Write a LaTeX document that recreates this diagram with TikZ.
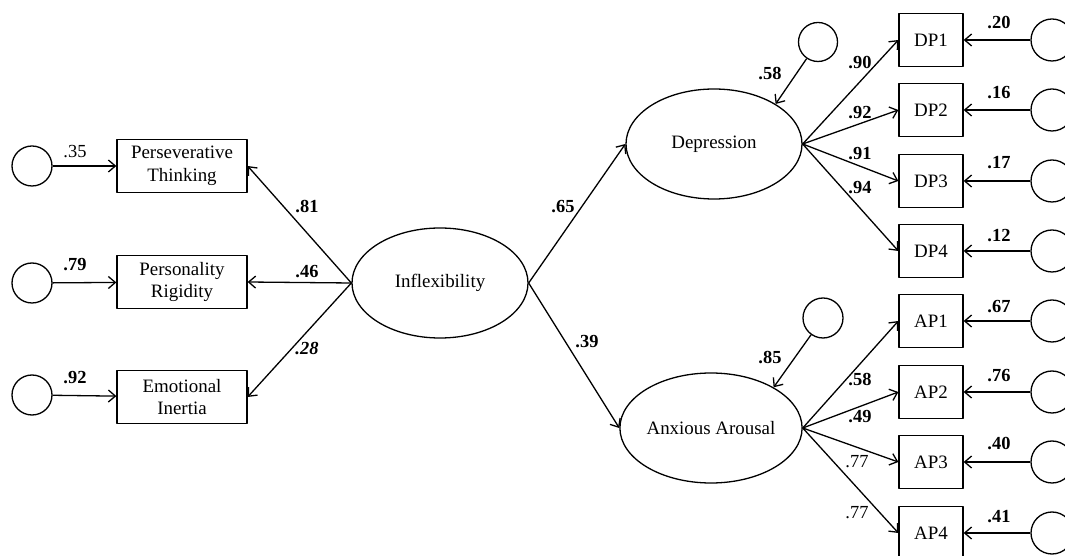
\documentclass[tikz,border=0pt]{standalone}
\usepackage{fontspec}
\setmainfont{Liberation Serif}
\usetikzlibrary{arrows.meta,shapes.geometric}
\tikzset{
  latent/.style={draw,ellipse,minimum width=176bp,minimum height=110bp,inner sep=0pt,font=\fontsize{19}{23}\selectfont},
  obsbox/.style={draw,rectangle,minimum height=53bp,inner sep=0pt,align=center,font=\fontsize{19}{23}\selectfont},
  errc/.style={draw,circle,minimum size=40bp,inner sep=0pt},
  coef/.style={inner sep=0pt,font=\fontsize{18.5}{20}\selectfont\bfseries},
  coefn/.style={inner sep=0pt,font=\fontsize{18.5}{20}\selectfont},
}
\begin{document}
\begin{tikzpicture}[>={Straight Barb[length=7bp,width=12bp]},line width=1.3bp,line join=bevel,]
\useasboundingbox (0bp,0bp) rectangle (1065bp,556bp);
%%
\node (node_inflex) at (440bp,273bp) [latent] {Inflexibility};
  \node (node_dep) at (714bp,412bp) [latent] {Depression};
  \node (node_anx) at (711bp,128bp) [latent] {Anxious Arousal};
  \node (node_pt) at (182bp,390bp) [obsbox,minimum width=130bp] {Perseverative\\Thinking};
  \node (node_pr) at (182bp,274bp) [obsbox,minimum width=130bp] {Personality\\Rigidity};
  \node (node_ei) at (182bp,159bp) [obsbox,minimum width=130bp] {Emotional\\Inertia};
  \node (err_pt) at (32bp,390bp) [errc] {};
  \node (err_pr) at (32bp,273bp) [errc] {};
  \node (err_ei) at (32bp,161bp) [errc] {};
  \node (dist_dep) at (818bp,514bp) [errc,minimum size=39bp] {};
  \node (dist_anx) at (823bp,238bp) [errc] {};
  \node (node_dp1) at (931bp,516bp) [obsbox,minimum width=64bp] {DP1};
  \node (node_dp2) at (931bp,446bp) [obsbox,minimum width=64bp] {DP2};
  \node (node_dp3) at (931bp,375bp) [obsbox,minimum width=64bp] {DP3};
  \node (node_dp4) at (931bp,305bp) [obsbox,minimum width=64bp] {DP4};
  \node (node_ap1) at (931bp,235bp) [obsbox,minimum width=64bp] {AP1};
  \node (node_ap2) at (931bp,164bp) [obsbox,minimum width=64bp] {AP2};
  \node (node_ap3) at (931bp,94bp) [obsbox,minimum width=64bp] {AP3};
  \node (node_ap4) at (931bp,23bp) [obsbox,minimum width=64bp] {AP4};
  \node (err_dp1) at (1052bp,516bp) [errc,minimum size=42bp] {};
  \node (err_dp2) at (1052bp,446bp) [errc,minimum size=42bp] {};
  \node (err_dp3) at (1052bp,375bp) [errc,minimum size=42bp] {};
  \node (err_dp4) at (1052bp,305bp) [errc,minimum size=42bp] {};
  \node (err_ap1) at (1052bp,235bp) [errc,minimum size=42bp] {};
  \node (err_ap2) at (1052bp,164bp) [errc,minimum size=42bp] {};
  \node (err_ap3) at (1052bp,94bp) [errc,minimum size=42bp] {};
  \node (err_ap4) at (1052bp,23bp) [errc,minimum size=42bp] {};
%
  \draw [->] (err_pt) -- (node_pt);
  \draw [->] (err_pr) -- (node_pr);
  \draw [->] (err_ei) -- (node_ei);
  \draw [->] (node_inflex.west) -- (node_pt.east);
  \draw [->] (node_inflex.west) -- (node_pr.east);
  \draw [->] (node_inflex.west) -- (node_ei.east);
  \draw [->] (node_inflex.east) -- (node_dep.west);
  \draw [->] (node_inflex.east) -- (node_anx.west);
  \draw [->] (dist_dep) -- (node_dep.33);
  \draw [->] (dist_anx) -- (node_anx.33);
  \foreach \i in {1,...,4} {
    \draw [->] (node_dep.east) -- (node_dp\i.west);
    \draw [->] (node_anx.east) -- (node_ap\i.west);
    \draw [->] (err_dp\i) -- (node_dp\i);
    \draw [->] (err_ap\i) -- (node_ap\i);
  }
%
  \node (lbl_pt) at (75bp,404bp) [coefn] {.35};
  \node (lbl_pr) at (75bp,291bp) [coef] {.79};
  \node (lbl_ei) at (75bp,178bp) [coef] {.92};
  \node (lbl_inpt) at (307bp,349bp) [coef] {.81};
  \node (lbl_inpr) at (307bp,284bp) [coef] {.46};
  \node (lbl_inei) at (307bp,207bp) [coef] {\itshape .28};
  \node (lbl_indep) at (563bp,349bp) [coef] {.65};
  \node (lbl_inanx) at (587bp,214bp) [coef] {.39};
  \node (lbl_ddep) at (770bp,482bp) [coef] {.58};
  \node (lbl_danx) at (770bp,198bp) [coef] {.85};
  \node (lbl_dp1) at (860bp,493bp) [coef] {.90};
  \node (lbl_dp2) at (860bp,443bp) [coef] {.92};
  \node (lbl_dp3) at (860bp,402bp) [coef] {.91};
  \node (lbl_dp4) at (860bp,368bp) [coef] {.94};
  \node (lbl_ap1) at (860bp,176bp) [coef] {.58};
  \node (lbl_ap2) at (860bp,139bp) [coef] {.49};
  \node (lbl_ap3) at (857bp,94bp) [coefn] {.77};
  \node (lbl_ap4) at (857bp,43bp) [coefn] {.77};
  \node (lbl_edp1) at (999bp,533bp) [coef] {.20};
  \node (lbl_edp2) at (999bp,463bp) [coef] {.16};
  \node (lbl_edp3) at (999bp,393bp) [coef] {.17};
  \node (lbl_edp4) at (999bp,320bp) [coef] {.12};
  \node (lbl_eap1) at (999bp,249bp) [coef] {.67};
  \node (lbl_eap2) at (999bp,180bp) [coef] {.76};
  \node (lbl_eap3) at (999bp,112bp) [coef] {.40};
  \node (lbl_eap4) at (999bp,39bp) [coef] {.41};
%
\end{tikzpicture}
\end{document}
